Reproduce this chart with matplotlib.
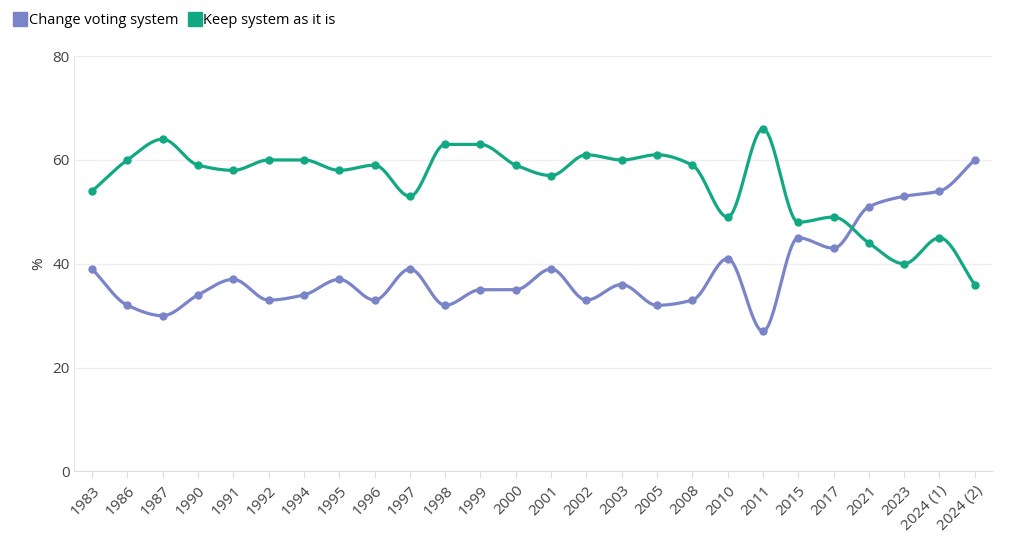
import numpy as np
import matplotlib
matplotlib.use("Agg")
from matplotlib import pyplot as plt

years = ["1983", "1986", "1987", "1990", "1991", "1992", "1994", "1995", "1996", "1997",
         "1998", "1999", "2000", "2001", "2002", "2003", "2005", "2008", "2010", "2011",
         "2015", "2017", "2021", "2023", "2024 (1)", "2024 (2)"]
change = [39, 32, 30, 34, 37, 33, 34, 37, 33, 39, 32, 35, 35, 39, 33, 36, 32, 33, 41, 27,
          45, 43, 51, 53, 54, 60]
keep = [54, 60, 64, 59, 58, 60, 60, 58, 59, 53, 63, 63, 59, 57, 61, 60, 61, 59, 49, 66,
        48, 49, 44, 40, 45, 36]

purple = "#7a84c8"
green = "#12a883"


def smooth(y, steps=30):
    # monotone cubic (Fritsch-Carlson) on unit spacing
    y = np.asarray(y, float)
    n = len(y)
    d = np.diff(y)
    m = np.zeros(n)
    m[0], m[-1] = d[0], d[-1]
    for i in range(1, n - 1):
        if d[i - 1] * d[i] > 0:
            m[i] = 2 / (1 / d[i - 1] + 1 / d[i])
    xs, ys = [], []
    for i in range(n - 1):
        t = np.linspace(0, 1, steps, endpoint=False)
        h00 = 2 * t**3 - 3 * t**2 + 1
        h10 = t**3 - 2 * t**2 + t
        h01 = -2 * t**3 + 3 * t**2
        h11 = t**3 - t**2
        xs.append(i + t)
        ys.append(h00 * y[i] + h10 * m[i] + h01 * y[i + 1] + h11 * m[i + 1])
    xs.append([n - 1])
    ys.append([y[-1]])
    return np.concatenate(xs), np.concatenate(ys)


plt.rcParams['font.family'] = ['Open Sans', 'DejaVu Sans']
fig = plt.figure(figsize=(10.2, 5.45), dpi=100)
ax = fig.add_axes([0.073, 0.135, 0.9, 0.762])
x = np.arange(len(years))
for vals, col, lab in [(change, purple, "Change voting system"), (keep, green, "Keep system as it is")]:
    sx, sy = smooth(vals)
    ax.plot(sx, sy, color=col, lw=2.3, label=lab)
    ax.plot(x, vals, "o", color=col, ms=5)

ax.set_xlim(-0.5, len(years) - 0.5)
ax.set_ylim(0, 80)
ax.set_yticks([0, 20, 40, 60, 80])
ax.set_xticks(x)
ax.set_xticklabels(years, rotation=45, ha="right", rotation_mode="anchor")
ax.tick_params(colors="#444444", labelsize=11, length=0)
ax.tick_params(axis="x", length=5, color="#dddddd")
ax.grid(axis="y", color="#eeeeee", lw=1)
for s in ["top", "right", "bottom"]:
    ax.spines[s].set_visible(False)
ax.spines["left"].set_color("#e6e6e6")
ax.spines["bottom"].set_visible(True)
ax.spines["bottom"].set_color("#dddddd")
ax.set_ylabel("%", color="#333333", fontsize=11)

from matplotlib.lines import Line2D
handles = [Line2D([], [], marker="s", ls="", color=purple, ms=10),
           Line2D([], [], marker="s", ls="", color=green, ms=10)]
fig.legend(handles, ["Change voting system", "Keep system as it is"], loc="upper left",
           bbox_to_anchor=(0.0, 1.0), ncol=2, frameon=False, fontsize=10.5,
           handletextpad=0.1, columnspacing=0.6, handlelength=1)
fig.savefig("out.png", dpi=100, facecolor="white")
